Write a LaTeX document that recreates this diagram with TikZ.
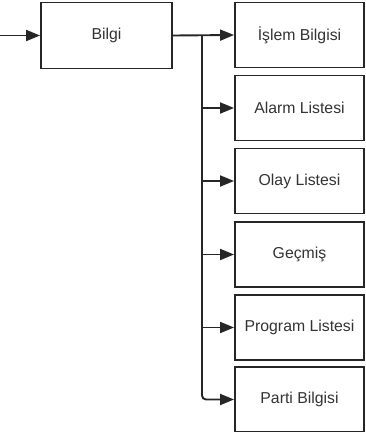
\documentclass[tikz,border=0pt]{standalone}
\usepackage{fontspec}
\setmainfont{Liberation Sans}
\usetikzlibrary{arrows.meta}
\begin{document}
\begin{tikzpicture}[x=1pt,y=-1pt,
  box/.style={draw=black!85, line width=1.9pt, minimum width=129pt, minimum height=65pt, inner sep=0pt, font=\fontsize{15.8}{18}\selectfont, text=black!80},
  arr/.style={draw=black!85, line width=1.9pt, -{Triangle[length=14pt,width=11pt]}}]
\useasboundingbox (0,0) rectangle (366,432);
\node[box, minimum width=131pt, minimum height=66pt] (b) at (106.5,35.5) {Bilgi};
\node[box] (i1) at (299.5,35) {İşlem Bilgisi};
\node[box] (i2) at (299.5,108) {Alarm Listesi};
\node[box] (i3) at (299.5,181) {Olay Listesi};
\node[box] (i4) at (299.5,254.5) {Geçmiş};
\node[box] (i5) at (299.5,327.5) {Program Listesi};
\node[box] (i6) at (299.5,399.5) {Parti Bilgisi};
\coordinate (in) at (0,35.5);
\coordinate (j) at (202,35.5);
\draw[arr] (in) -- (b.west);
\draw[arr] (b.east) -- (i1.west);
\draw[arr, rounded corners=4pt] (j) |- (i6.west);
\foreach \k in {2,3,4,5} \draw[arr] (j |- i\k.west) -- (i\k.west);
\end{tikzpicture}
\end{document}
